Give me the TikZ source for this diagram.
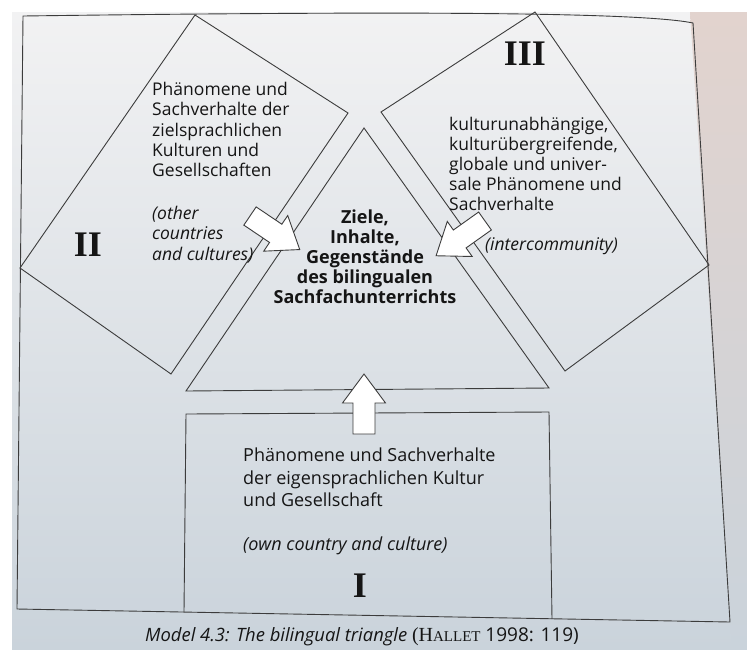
\documentclass[tikz,border=0pt]{standalone}
\usepackage{fontspec}
\setmainfont{Open Sans}
\newfontfamily\numfont{Liberation Serif}

\definecolor{pagetop}{HTML}{F2F2F3}
\definecolor{pagemid}{HTML}{EBECEE}
\definecolor{pagebottom}{HTML}{CAD3DB}
\definecolor{pagepink}{HTML}{E2D3CE}
\definecolor{linegray}{HTML}{3C3C3C}
\definecolor{ink}{HTML}{151515}

\begin{document}
\begin{tikzpicture}[
    x=1pt, y=-1pt,
    every node/.style={inner sep=0pt, text=ink},
    outline/.style={draw=linegray, line width=0.9pt},
    blockarr/.style={outline, fill=white},
    body/.style={font=\fontsize{17.5}{20.3}\selectfont, align=left, anchor=north west},
    note/.style={body, font=\fontsize{17.5}{20.3}\selectfont\itshape},
    core/.style={font=\fontsize{18}{20}\selectfont\bfseries, align=center},
    numeral/.style={font=\numfont\bfseries\fontsize{36}{36}\selectfont},
    fatarrow/.pic={
        \draw[blockarr] (0,-11) -- (31,-11) -- (31,-21.5) -- (60,0)
            -- (31,21.5) -- (31,11) -- (0,11) -- cycle;
    }
]
    \useasboundingbox (0,0) rectangle (747,649);

    % Page
    \fill[white] (0,0) rectangle (747,649);
    \shade[top color=pagetop, middle color=pagemid, bottom color=pagebottom]
        (12,12) rectangle (747,649);
    \shade[top color=pagepink, bottom color=pagebottom]
        (690,12) -- (747,12) -- (747,649) -- (732,649) -- cycle;

    % Outer frame
    \coordinate (fTL) at (23,16);
    \coordinate (fTR) at (693,23);
    \coordinate (fBR) at (730,622);
    \coordinate (fBL) at (17,609);
    \draw[outline] (fTL) .. controls (400,11) and (640,12) .. (fTR)
        -- (fBR) -- (fBL) -- cycle;

    % Field II
    \coordinate (twoN) at (195,15);
    \coordinate (twoE) at (348,113);
    \coordinate (twoS) at (171,374);
    \coordinate (twoW) at (20,268);
    \draw[outline] (twoN) -- (twoE) -- (twoS) -- (twoW) -- cycle;

    % Field III
    \coordinate (threeN) at (535,12);
    \coordinate (threeE) at (709,265);
    \coordinate (threeS) at (565,371);
    \coordinate (threeW) at (381,112);
    \draw[outline] (threeN) -- (threeE) -- (threeS) -- (threeW) -- cycle;

    % Centre triangle
    \coordinate (triTop) at (364,128);
    \coordinate (triL) at (186,391);
    \coordinate (triR) at (549,388);
    \draw[outline] (triTop) -- (triR) -- (triL) -- cycle;

    % Field I
    \coordinate (oneNW) at (186,414);
    \coordinate (oneNE) at (549,412);
    \coordinate (oneSE) at (552,619);
    \coordinate (oneSW) at (184,612);
    \draw[outline] (oneSW) -- (oneNW) -- (oneNE) -- (oneSE);

    % Arrows into the centre
    \pic[rotate=90] (fromOne) at (364,434) {fatarrow};
    \pic[rotate=-34] (fromTwo) at (250,216) {fatarrow};
    \pic[rotate=215.4] (fromThree) at (485,221) {fatarrow};

    % Centre
    \node[core] (core) at (365,257)
        {Ziele,\\Inhalte,\\Gegenstände\\des bilingualen\\Sachfachunterrichts};

    % Texts II
    \node[body] (twoText) at (152,82)
        {Phänomene und\\Sachverhalte der\\zielsprachlichen\\Kulturen und\\Gesellschaften};
    \node[note] (twoNote) at (152,206) {(other\\countries\\and cultures)};
    \node[numeral] (twoNum) at (88,245) {II};

    % Texts III
    \node[numeral] (threeNum) at (525,54) {III};
    \node[body, font=\fontsize{17.5}{20}\selectfont] (threeText) at (449,117)
        {kulturunabhängige,\\kulturübergreifende,\\globale und univer-\\sale Phänomene und\\Sachverhalte};
    \node[note] (threeNote) at (485,237) {(intercommunity)};

    % Texts I
    \node[body, font=\fontsize{18}{22.5}\selectfont] (oneText) at (243,448)
        {Phänomene und Sachverhalte\\der eigensprachlichen Kultur\\und Gesellschaft};
    \node[note, font=\fontsize{18}{22.5}\selectfont\itshape] (oneNote) at (243,537)
        {(own country and culture)};
    \node[numeral] (oneNum) at (360,586) {I};

    % Caption
    \node[anchor=base west, font=\fontsize{18.4}{21}\selectfont\itshape] (caption) at (145,641)
        {Model 4.3: The bilingual triangle
         {\upshape\numfont\fontsize{20}{22}\selectfont (H\fontsize{15}{17}\selectfont ALLET}
         {\upshape\fontsize{19}{21}\selectfont 1998: 119)}};
\end{tikzpicture}
\end{document}
